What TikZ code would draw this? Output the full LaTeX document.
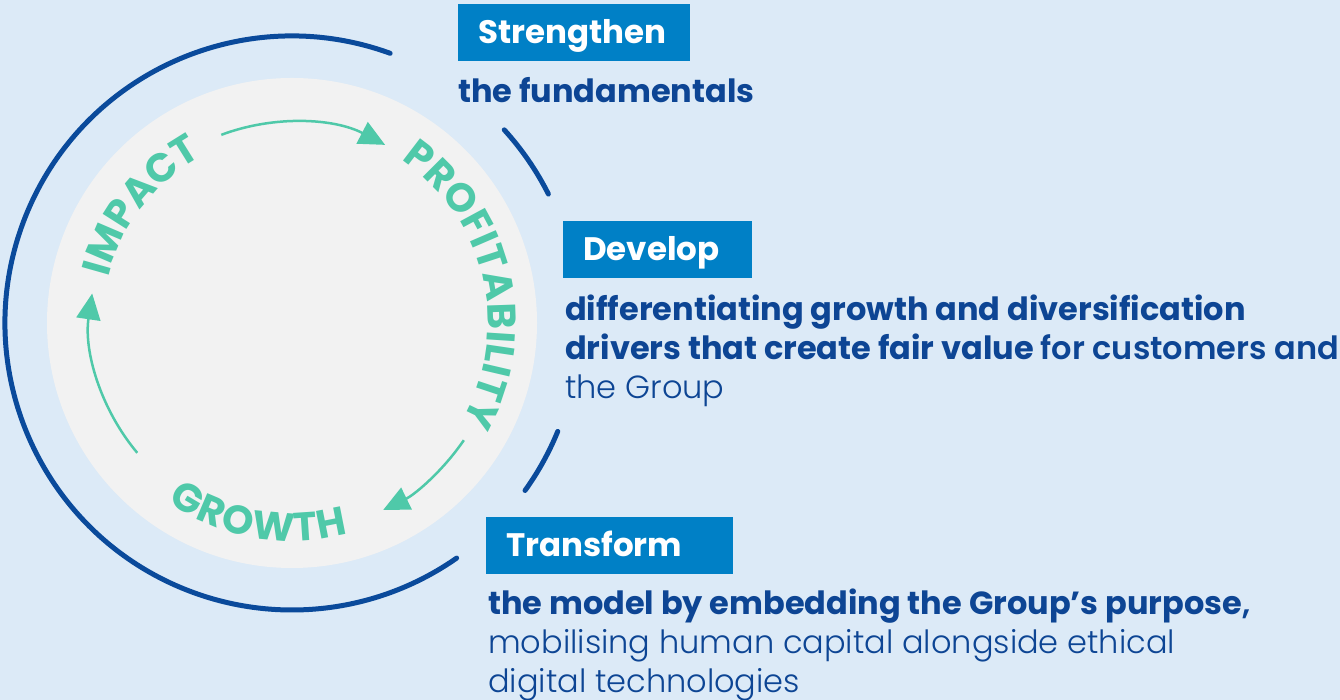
\documentclass[tikz,border=0pt]{standalone}
\usepackage{fontspec}
\setmainfont{Poppins}
\newfontfamily\thinfont{Poppins Light}
\usetikzlibrary{arrows.meta,decorations.text}
\definecolor{bgblue}{HTML}{DCEAF7}
\definecolor{disc}{HTML}{F2F2F2}
\definecolor{ringblue}{HTML}{0A4A9B}
\definecolor{mint}{HTML}{4FC9A9}
\definecolor{boxblue}{HTML}{0080C6}
\definecolor{inkblue}{HTML}{0D4594}
\hyphenpenalty=10000
\exhyphenpenalty=10000
\tikzset{
  ring/.style={ringblue,line width=5pt,line cap=round},
  cyclearrow/.style={mint,line width=2.5pt,-{Triangle[length=26pt,width=24pt]}},
  tagbox/.style={fill=boxblue,text=white,font=\fontsize{32.5}{35}\selectfont\bfseries,
    text height=39pt,text depth=18pt,inner xsep=20pt,inner ysep=0pt,anchor=north west,align=left},
  blurb/.style={text=inkblue,font=\fontsize{32}{39}\selectfont,anchor=base west,align=left,inner sep=0pt},
  circlabel/.style={decorate,decoration={text along path,text color=mint,
    text align={fit to path},text={|\fontsize{40}{40}\selectfont\bfseries|#1}}}
}
\begin{document}
\begin{tikzpicture}[x=1pt,y=1pt]
\useasboundingbox (0,0) rectangle (1340,700);
\fill[bgblue] (0,0) rectangle (1340,700);
\coordinate (c) at (292,377);
% inner disc and the ring pieces
\fill[disc] (c) circle (245);
\draw[ring] ([shift={(70:287)}]c) arc[start angle=70,end angle=305,radius=287];
\draw[ring] ([shift={(42.3:287)}]c) arc[start angle=42.3,end angle=26.7,radius=287];
\draw[ring] ([shift={(-22.2:287)}]c) arc[start angle=-22.2,end angle=-35.7,radius=287];
% cycle words
\path[circlabel={IMPACT }] ([shift={(166:189)}]c) arc[start angle=166,end angle=120,radius=189];
\path[circlabel=PROFITABILITY] ([shift={(56.2:196)}]c) arc[start angle=56.2,end angle=-29.8,radius=196];
\path[circlabel=GROWTH] ([shift={(235.2:218)}]c) arc[start angle=235.2,end angle=285,radius=218];
% cycle arrows
\draw[cyclearrow] ([shift={(110.6:201)}]c) arc[start angle=110.6,end angle=62.4,radius=201];
\draw[cyclearrow] ([shift={(-34.3:208)}]c) arc[start angle=-34.3,end angle=-64,radius=208];
\draw[cyclearrow] ([shift={(220:202)}]c) arc[start angle=220,end angle=171.6,radius=202];
% the three steps
\node[tagbox,text width=192pt] (strengthen) at (458,696) {Strengthen};
\node[blurb] (fundamentals) at (458,597) {\bfseries the fundamentals};
\node[tagbox,text width=149pt] (develop) at (563,479) {Develop};
\node[blurb] (developtext) at (565,301) {\bfseries differentiating growth and diversification\\
  \bfseries drivers that create fair value {\thinfont for customers and}\\
  \thinfont the Group};
\node[tagbox,text width=207pt] (transform) at (486,183) {Transform};
\node[blurb] (transformtext) at (488,7) {\bfseries the model by embedding the Group’s purpose{\thinfont,}\\
  \thinfont mobilising human capital alongside ethical\\
  \thinfont digital technologies};
\end{tikzpicture}
\end{document}
